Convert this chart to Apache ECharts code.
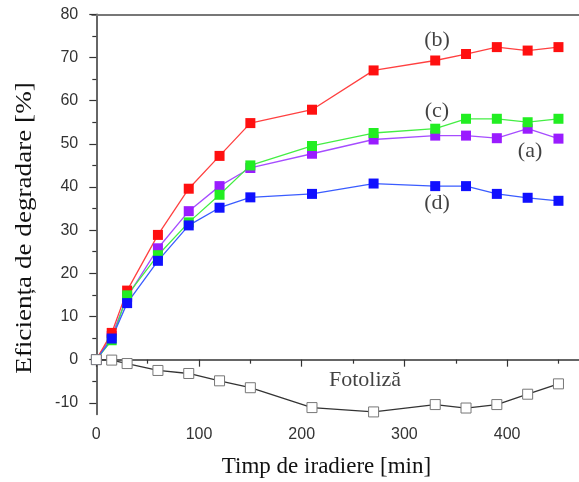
<!DOCTYPE html>
<html>
<head>
<meta charset="utf-8">
<script src="https://cdn.jsdelivr.net/npm/echarts@6/dist/echarts.min.js"></script>
<style>
html,body{margin:0;padding:0;background:#fff;}
#chart{width:579px;height:482px;}
</style>
</head>
<body>
<div id="chart"></div>
<script>
// time [min]
var times = [0, 15, 30, 60, 90, 120, 150, 210, 270, 330, 360, 390, 420, 450];
// series (a)-(d) and photolysis
var seriesA = [0, 5.5, 14.5, 25.8, 34.4, 40.2, 44.4, 47.7, 51.0, 51.9, 51.9, 51.3, 53.5, 51.2];
var seriesB = [0, 6.2, 16.0, 28.9, 39.6, 47.2, 54.8, 57.9, 67.0, 69.3, 70.8, 72.4, 71.6, 72.4];
var seriesC = [0, 4.5, 14.9, 24.2, 31.8, 38.2, 45.0, 49.5, 52.5, 53.5, 55.8, 55.8, 55.0, 55.8];
var seriesD = [0, 4.9, 13.1, 22.9, 31.1, 35.2, 37.6, 38.4, 40.8, 40.2, 40.2, 38.4, 37.5, 36.8];
var fotoliza = [0, -0.1, -0.9, -2.5, -3.2, -4.9, -6.5, -11.1, -12.1, -10.4, -11.2, -10.4, -8.0, -5.6];
// tick labels
var xTicks = [0, 100, 200, 300, 400];
var xMinorTicks = [50, 150, 250, 350, 450];
var yTicks = [-10, 0, 10, 20, 30, 40, 50, 60, 70, 80];
var yMinorTicks = [-5, 5, 15, 25, 35, 45, 55, 65, 75];
// curve labels and their anchor points in data units
var annText = ['(b)', '(c)', '(a)', '(d)', 'Fotoliză'];
var annX = [331.7, 331.7, 422.3, 331.7, 261.6];
var annY = [74.1, 57.5, 48.2, 36.2, -4.8];
var xTitle = 'Timp de iradiere [min]';
var yTitle = 'Eficiența de degradare [%]';

function pairs(ys){ return times.map(function(t,i){ return [t, ys[i]]; }); }

var chart = echarts.init(document.getElementById('chart'), null, {renderer:'canvas'});
var XMIN = -4, XMAX = 470, YMIN = -12.7, YMAX = 80;
var axisColor = '#333';
var labelFont = {fontFamily:'Liberation Sans, Arial, sans-serif', fontSize:16, color:'#333'};
var serif = 'Liberation Serif, Times New Roman, serif';

function lineSeries(name, ys, color, lineColor){
  return {
    name:name, type:'line', data:pairs(ys),
    symbol:'rect', symbolSize:10, showSymbol:true,
    lineStyle:{color:lineColor||color, width:1.3},
    itemStyle:{color:color, borderColor:color, borderWidth:0},
    emphasis:{disabled:true}, z:3
  };
}

var option = {
  animation:false,
  grid:{left:92.2, right:0, top:14.3, bottom:67.5, containLabel:false, outerBoundsMode:'none'},
  xAxis:[
    {type:'value', min:XMIN, max:XMAX, position:'bottom',
     axisLine:{show:true, lineStyle:{color:axisColor, width:1.5}},
     axisTick:{show:true, length:7, lineStyle:{color:axisColor, width:1.2}, customValues:xTicks},
     axisLabel:Object.assign({margin:12, customValues:xTicks}, labelFont),
     splitLine:{show:false}},
    {type:'value', min:XMIN, max:XMAX, position:'bottom',
     axisLine:{show:false},
     axisTick:{show:true, length:4, lineStyle:{color:axisColor, width:1.2}, customValues:xMinorTicks},
     axisLabel:{show:false, customValues:xMinorTicks}, splitLine:{show:false}},
    {type:'value', min:XMIN, max:XMAX, position:'top',
     axisLine:{show:true, lineStyle:{color:'#777', width:2}},
     axisTick:{show:false}, axisLabel:{show:false}, splitLine:{show:false}}
  ],
  yAxis:[
    {type:'value', min:YMIN, max:YMAX, position:'left',
     axisLine:{show:true, lineStyle:{color:axisColor, width:1.5}},
     axisTick:{show:true, length:7, lineStyle:{color:axisColor, width:1.2}, customValues:yTicks},
     axisLabel:Object.assign({margin:14, customValues:yTicks}, labelFont),
     splitLine:{show:false}},
    {type:'value', min:YMIN, max:YMAX, position:'left',
     axisLine:{show:false},
     axisTick:{show:true, length:4, lineStyle:{color:axisColor, width:1.2}, customValues:yMinorTicks},
     axisLabel:{show:false, customValues:yMinorTicks}, splitLine:{show:false}}
  ],
  graphic:[
    {type:'text', x:326.5, y:467, style:{text:xTitle, font:'23px ' + serif, fill:'#111', textAlign:'center', textVerticalAlign:'middle'}},
    {type:'text', x:25, y:228, rotation:Math.PI/2, scaleX:1.18,
     style:{text:yTitle, font:'23px ' + serif, fill:'#111', textAlign:'center', textVerticalAlign:'middle'}}
  ],
  series:[
    lineSeries('(a)', seriesA, '#9a1cff', '#a64dff'),
    lineSeries('(b)', seriesB, '#ff1010', '#ff4040'),
    lineSeries('(c)', seriesC, '#22ee22', '#44ee44'),
    lineSeries('(d)', seriesD, '#1010ff', '#3a5cff'),
    {name:'Fotoliză', type:'line', data:pairs(fotoliza),
     symbol:'rect', symbolSize:10,
     lineStyle:{color:'#333', width:1.3},
     itemStyle:{color:'#fff', borderColor:'#777', borderWidth:1},
     emphasis:{disabled:true}, z:3},
    {type:'scatter', symbolSize:0, silent:true,
     data:annText.map(function(t,i){ return {value:[annX[i], annY[i]], name:t}; }),
     label:{show:true, position:'inside', formatter:function(p){return p.name;},
            fontFamily:serif, fontSize:22, color:'#111'},
     z:5}
  ]
};
chart.setOption(option);
</script>
</body>
</html>
